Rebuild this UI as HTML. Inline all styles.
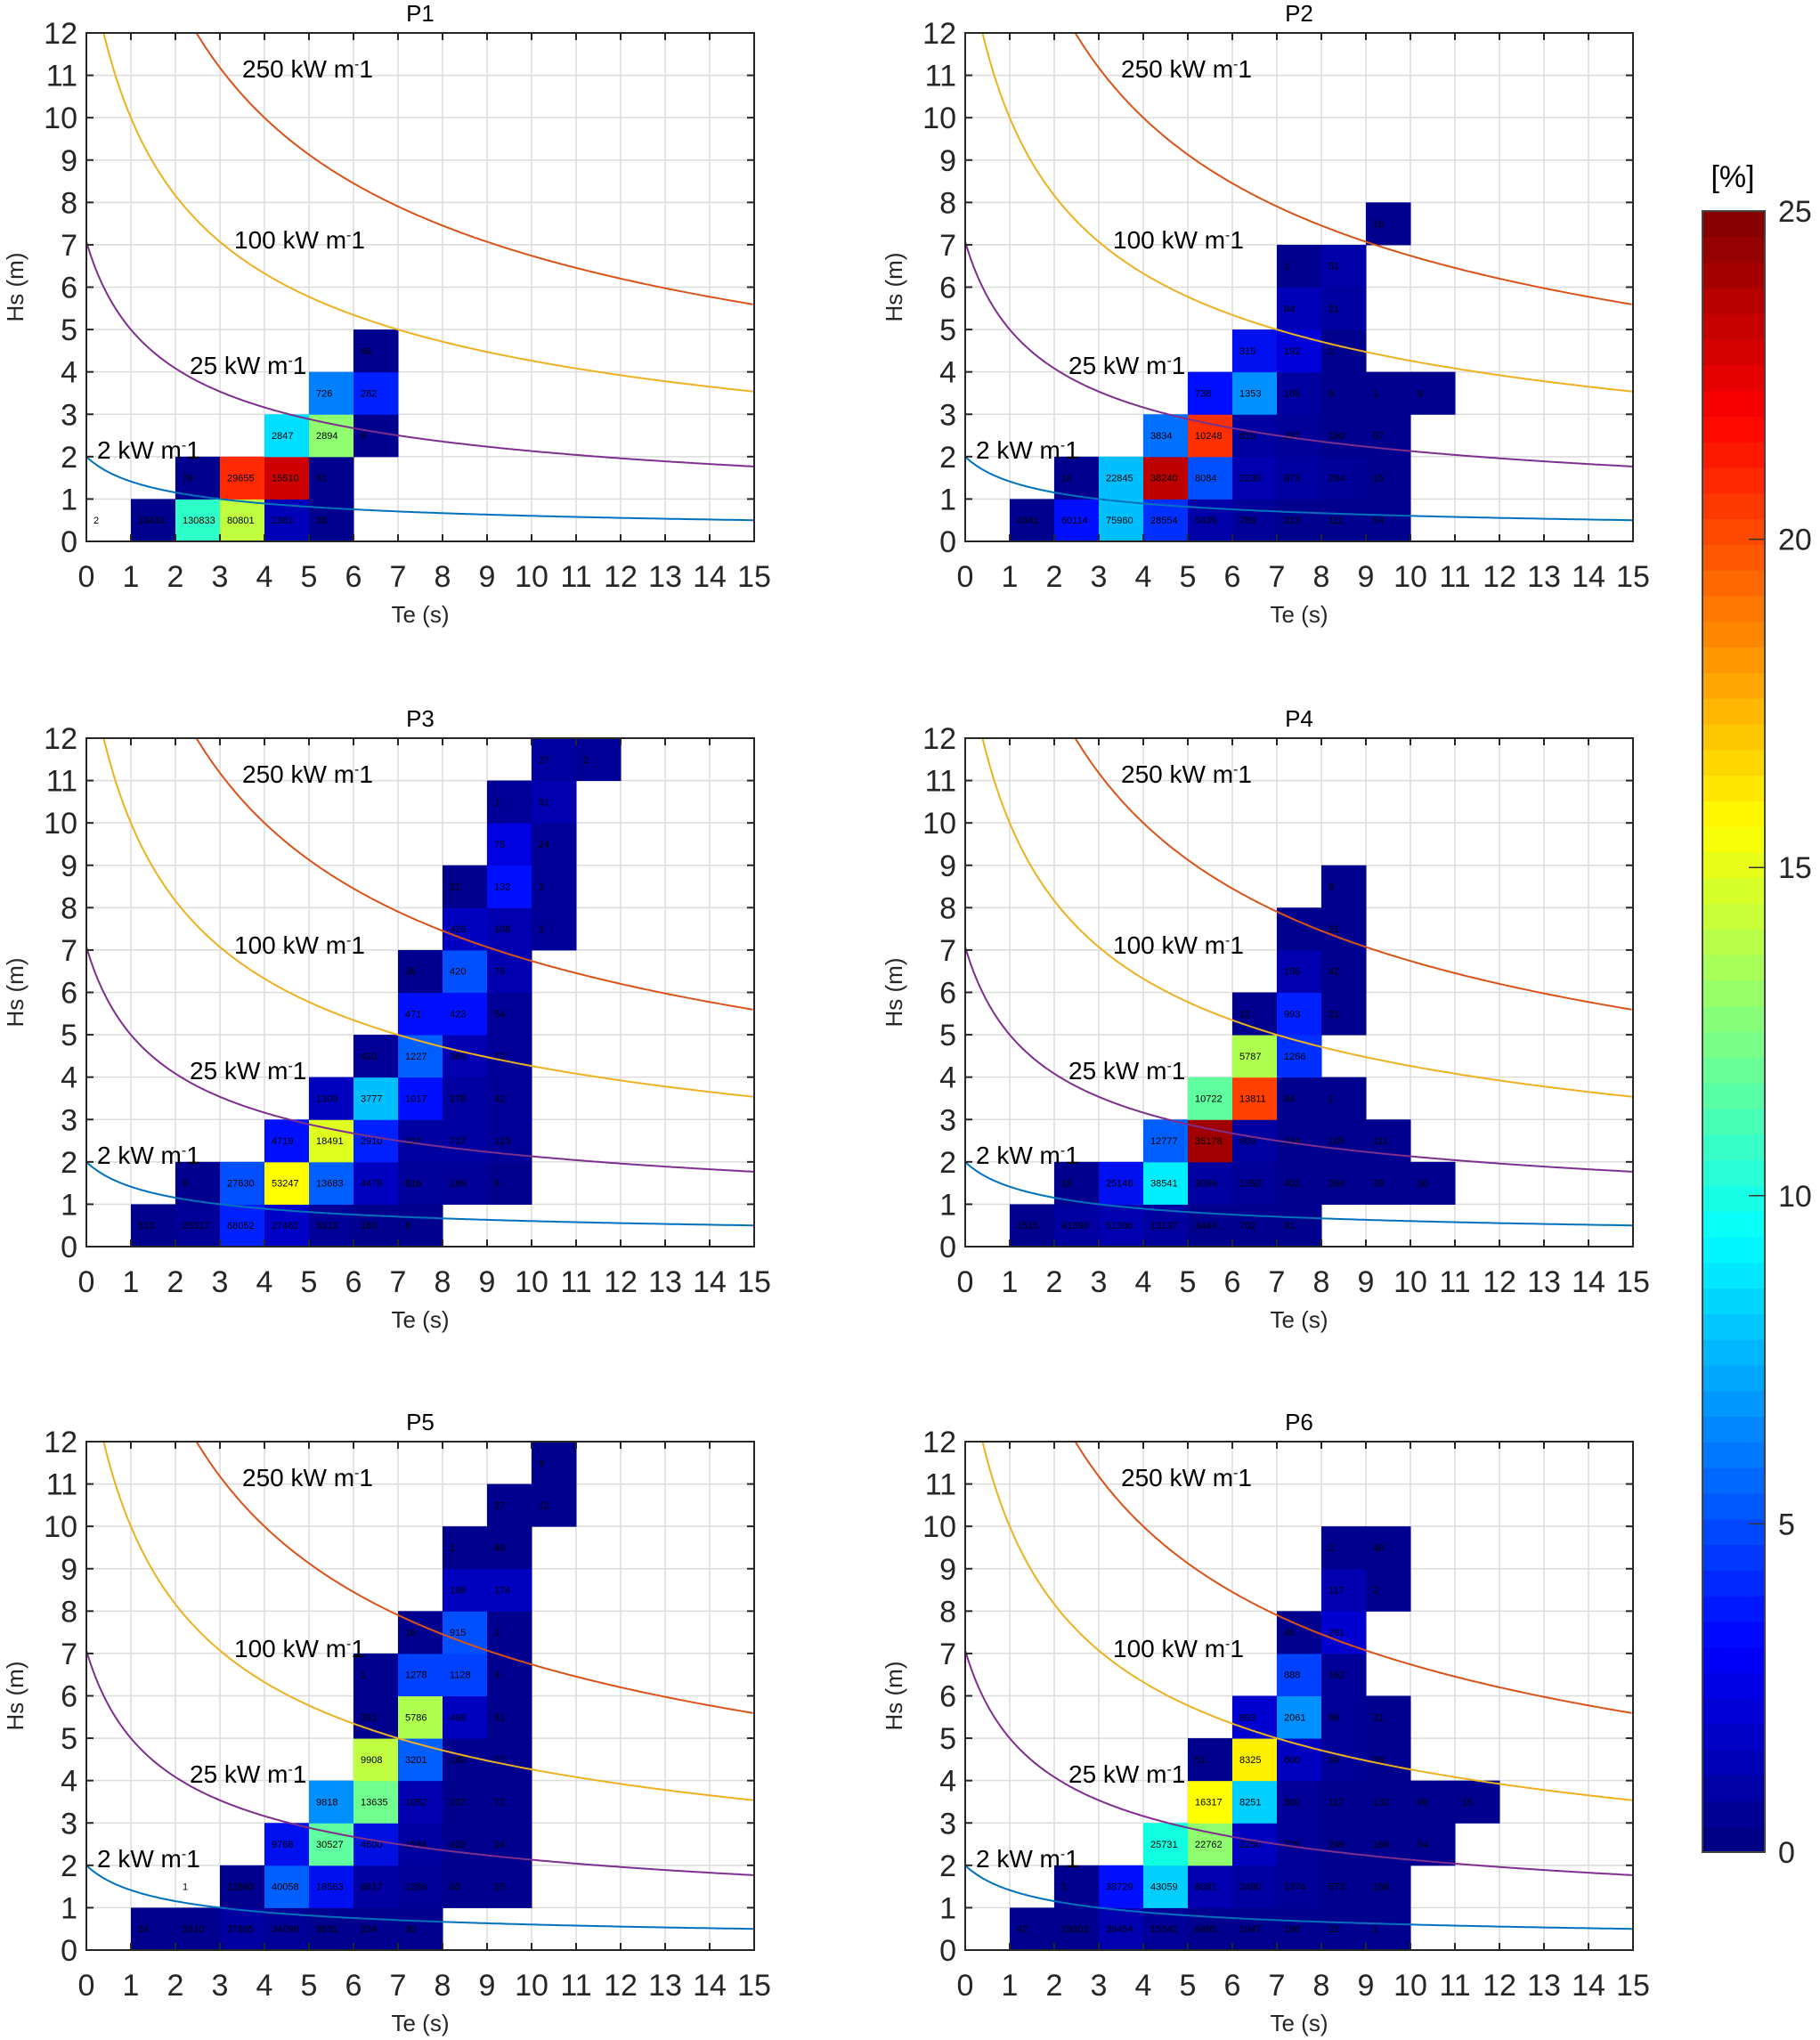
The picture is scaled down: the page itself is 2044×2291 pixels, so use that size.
<!DOCTYPE html>
<html><head><meta charset="utf-8">
<style>
html,body{margin:0;padding:0;background:#fff;}
svg{display:block;font-family:"Liberation Sans",Arial,sans-serif;}
</style></head>
<body>
<svg id="s" xmlns="http://www.w3.org/2000/svg" width="2044" height="2291" viewBox="0 0 2044 2291"></svg>
<script>
const N='#00008F';
const panels=[
 {name:'P1',L:97,T:37,cells:[
  [0,0,'#ffffff','2'],[1,0,N,'18431'],[2,0,'#2DFFC8','130833'],[3,0,'#BFFF3F','80801'],[4,0,'#0000B8','2361'],[5,0,N,'38'],
  [2,1,N,'78'],[3,1,'#FF2A00','29655'],[4,1,'#CF0000','15510'],[5,1,N,'81'],
  [4,2,'#00DFFF','2847'],[5,2,'#8FFF6F','2894'],[6,2,N,'9'],
  [5,3,'#0080FF','726'],[6,3,'#0020FF','282'],
  [6,4,N,'66']]},
 {name:'P2',L:1084,T:37,cells:[
  [1,0,N,'4341'],[2,0,'#0010FF','60114'],[3,0,'#00BFFF','75960'],[4,0,'#0030FF','28554'],[5,0,'#0000A8','5439'],[6,0,'#000098','789'],[7,0,N,'213'],[8,0,N,'111'],[9,0,N,'54'],
  [2,1,N,'16'],[3,1,'#00BFFF','22845'],[4,1,'#BF0000','38240'],[5,1,'#0050FF','8084'],[6,1,'#0000B0','2235'],[7,1,'#0000A0','873'],[8,1,'#000098','294'],[9,1,N,'15'],
  [4,2,'#0070FF','3834'],[5,2,'#FF3000','10248'],[6,2,'#0000A0','815'],[7,2,'#000098','287'],[8,2,N,'160'],[9,2,N,'57'],
  [5,3,'#0010FF','738'],[6,3,'#0090FF','1353'],[7,3,'#0000A0','165'],[8,3,N,'9'],[9,3,N,'1'],[10,3,N,'9'],
  [6,4,'#0010F0','315'],[7,4,'#0000D8','192'],[8,4,N,'2'],
  [7,5,'#0000B8','84'],[8,5,'#0000A0','21'],
  [7,6,N,'1'],[8,6,'#0000A8','51'],
  [9,7,N,'16']]},
 {name:'P3',L:97,T:829,cells:[
  [1,0,N,'513'],[2,0,'#000098','25317'],[3,0,'#0020FF','68052'],[4,0,'#0000C8','27462'],[5,0,'#000098','5313'],[6,0,N,'183'],[7,0,N,'8'],
  [2,1,N,'9'],[3,1,'#0050FF','27630'],[4,1,'#FFFF00','53247'],[5,1,'#0060FF','13683'],[6,1,'#0000C0','4479'],[7,1,'#00009A','816'],[8,1,'#000098','189'],[9,1,N,'9'],
  [4,2,'#0010FF','4719'],[5,2,'#DFFF1F','18491'],[6,2,'#0020FF','2910'],[7,2,'#0000A0','212'],[8,2,'#0000A0','717'],[9,2,'#000098','123'],
  [5,3,'#0000C0','1309'],[6,3,'#00BFFF','3777'],[7,3,'#0010FF','1017'],[8,3,'#0000A0','278'],[9,3,'#000098','42'],
  [6,4,'#000098','420'],[7,4,'#0060FF','1227'],[8,4,'#0000B0','366'],[9,4,'#000098','12'],
  [7,5,'#0010FF','471'],[8,5,'#0010FF','423'],[9,5,'#000098','54'],
  [7,6,N,'36'],[8,6,'#0050FF','420'],[9,6,'#0000B0','75'],
  [8,7,'#0000C0','426'],[9,7,'#0000B0','108'],[10,7,'#000098','1'],
  [8,8,N,'21'],[9,8,'#0010FF','132'],[10,8,'#000098','2'],
  [9,9,'#0000E0','75'],[10,9,'#000098','24'],
  [9,10,'#000098','1'],[10,10,'#0000B0','51'],
  [10,11,'#0000A0','27'],[11,11,'#000098','2']]},
 {name:'P4',L:1084,T:829,cells:[
  [1,0,N,'1515'],[2,0,'#0000A0','41898'],[3,0,'#0000B0','51306'],[4,0,'#0000A0','13137'],[5,0,N,'3444'],[6,0,N,'702'],[7,0,N,'81'],
  [2,1,N,'18'],[3,1,'#0010F0','25146'],[4,1,'#00EFFF','38541'],[5,1,'#0000A0','3099'],[6,1,'#000098','1353'],[7,1,N,'402'],[8,1,N,'268'],[9,1,N,'39'],[10,1,N,'30'],
  [4,2,'#0060FF','12777'],[5,2,'#A00000','35178'],[6,2,'#0000A0','909'],[7,2,N,'234'],[8,2,N,'105'],[9,2,N,'111'],
  [5,3,'#60FF9F','10722'],[6,3,'#FF4000','13811'],[7,3,N,'84'],[8,3,N,'1'],
  [6,4,'#AFFF4F','5787'],[7,4,'#0030FF','1266'],
  [6,5,N,'12'],[7,5,'#0020FF','993'],[8,5,N,'21'],
  [7,6,'#0000B0','156'],[8,6,N,'42'],
  [7,7,N,''],[8,7,N,'21'],
  [8,8,N,'9']]},
 {name:'P5',L:97,T:1619,cells:[
  [1,0,N,'24'],[2,0,N,'5610'],[3,0,'#0000A0','37895'],[4,0,'#000098','34098'],[5,0,N,'9531'],[6,0,N,'234'],[7,0,N,'30'],
  [2,1,'#ffffff','1'],[3,1,N,'12863'],[4,1,'#0060FF','40058'],[5,1,'#0010F0','18563'],[6,1,'#0000A0','6617'],[7,1,'#000098','1286'],[8,1,N,'63'],[9,1,N,'15'],
  [4,2,'#0010F0','9768'],[5,2,'#60FF9F','30527'],[6,2,'#0010E0','4600'],[7,2,'#0000A0','1584'],[8,2,N,'420'],[9,2,N,'24'],
  [5,3,'#0090FF','9818'],[6,3,'#70FF8F','13635'],[7,3,'#0000B0','1052'],[8,3,N,'237'],[9,3,N,'72'],
  [6,4,'#BFFF3F','9908'],[7,4,'#0060FF','3201'],[8,4,N,'180'],[9,4,N,'27'],
  [6,5,N,'291'],[7,5,'#AFFF4F','5786'],[8,5,'#0000C0','468'],[9,5,N,'51'],
  [6,6,N,'1'],[7,6,'#0040FF','1278'],[8,6,'#0040FF','1128'],[9,6,N,'9'],
  [7,7,N,'16'],[8,7,'#0050FF','915'],[9,7,N,'1'],
  [8,8,'#0000C0','198'],[9,8,'#0000C0','174'],
  [8,9,N,'1'],[9,9,N,'45'],
  [9,10,N,'27'],[10,10,N,'12'],
  [10,11,N,'9']]},
 {name:'P6',L:1084,T:1619,cells:[
  [1,0,N,'42'],[2,0,N,'18303'],[3,0,'#0000B0','38454'],[4,0,'#000098','15342'],[5,0,N,'8495'],[6,0,N,'1047'],[7,0,N,'198'],[8,0,N,'21'],[9,0,N,'1'],
  [2,1,N,'1'],[3,1,'#0010FF','38729'],[4,1,'#00CFFF','43059'],[5,1,'#0000B0','8081'],[6,1,'#0000A0','2490'],[7,1,'#000098','1374'],[8,1,N,'573'],[9,1,N,'158'],
  [4,2,'#10FFE0','25731'],[5,2,'#8FFF6F','22762'],[6,2,'#0000C0','2250'],[7,2,'#000098','725'],[8,2,N,'249'],[9,2,N,'168'],[10,2,N,'54'],
  [5,3,'#FFFF00','16317'],[6,3,'#00CFFF','8251'],[7,3,'#000098','300'],[8,3,N,'117'],[9,3,N,'132'],[10,3,N,'96'],[11,3,N,'15'],
  [5,4,N,'51'],[6,4,'#FFF000','8325'],[7,4,'#0000C0','600'],[8,4,'#000098','39'],[9,4,N,'39'],
  [6,5,'#0000D0','893'],[7,5,'#0090FF','2061'],[8,5,'#000098','99'],[9,5,N,'21'],
  [7,6,'#0040FF','888'],[8,6,'#000098','162'],
  [7,7,N,'45'],[8,7,'#0000D0','291'],
  [8,8,'#0000B0','117'],[9,8,N,'2'],
  [8,9,N,'2'],[9,9,N,'48']]}
];
const svg=document.getElementById('s');
const NS='http://www.w3.org/2000/svg';
function el(t,a,txt){const e=document.createElementNS(NS,t);for(const k in a)e.setAttribute(k,a[k]);if(txt!==undefined)e.textContent=txt;svg.appendChild(e);return e;}
const W=750,H=571,ux=W/15,uy=H/12;
const curves=[[2,'#0072BD'],[25,'#7E2F8E'],[100,'#EDB120'],[250,'#D95319']];
const ann=[['250',175,40],['100',166,232],['25',116,373],['2',12,468]];
panels.forEach(p=>{
 const L=p.L,T=p.T,B=T+H,R=L+W;
 for(let i=1;i<15;i++)el('line',{x1:L+i*ux,y1:T,x2:L+i*ux,y2:B,stroke:'#dcdcdc','stroke-width':1.5});
 for(let j=1;j<12;j++)el('line',{x1:L,y1:B-j*uy,x2:R,y2:B-j*uy,stroke:'#dcdcdc','stroke-width':1.5});
 p.cells.forEach(c=>{
  const x=L+c[0]*ux,y=B-(c[1]+1)*uy;
  if(c[2]!=='#ffffff')el('rect',{x:x,y:y,width:ux+0.5,height:uy+0.5,fill:c[2]});
  if(c[3])el('text',{x:x+8,y:y+uy/2+4,'font-size':11,fill:'#000'},c[3]);
 });
 curves.forEach(cv=>{
  let d='';const P=cv[0];
  let x0=Math.max(0,P/(0.5*144)-1);
  for(let x=x0;x<=15.0001;x+=0.05){
   const y=Math.sqrt(P/(0.5*(x+1)));
   d+=(d?'L':'M')+(L+x*ux).toFixed(1)+' '+(B-y*uy).toFixed(1);
  }
  el('path',{d:d,fill:'none',stroke:cv[1],'stroke-width':2});
 });
 ann.forEach(a=>{
  const t=el('text',{x:L+a[1],y:T+a[2]+10,'font-size':28,fill:'#000'});
  t.appendChild(document.createTextNode(a[0]+' kW m'));
  const s=document.createElementNS(NS,'tspan');s.setAttribute('dy','-10');s.setAttribute('font-size','16');s.textContent='-';t.appendChild(s);
  const s2=document.createElementNS(NS,'tspan');s2.setAttribute('dy','10');s2.textContent='1';t.appendChild(s2);
 });
 el('rect',{x:L,y:T,width:W,height:H,fill:'none',stroke:'#262626','stroke-width':2});
 for(let i=0;i<=15;i++){const x=L+i*ux;
  el('line',{x1:x,y1:B,x2:x,y2:B-8,stroke:'#262626','stroke-width':2});
  el('line',{x1:x,y1:T,x2:x,y2:T+8,stroke:'#262626','stroke-width':2});
  el('text',{x:x,y:B+51,'font-size':34,'text-anchor':'middle',fill:'#262626'},String(i));}
 for(let j=0;j<=12;j++){const y=B-j*uy;
  el('line',{x1:L,y1:y,x2:L+8,y2:y,stroke:'#262626','stroke-width':2});
  el('line',{x1:R,y1:y,x2:R-8,y2:y,stroke:'#262626','stroke-width':2});
  el('text',{x:L-10,y:y+12,'font-size':34,'text-anchor':'end',fill:'#262626'},String(j));}
 el('text',{x:L+W/2,y:B+91,'font-size':26,'text-anchor':'middle',fill:'#262626'},'Te (s)');
 el('text',{x:L+W/2,y:T-13,'font-size':26,'text-anchor':'middle',fill:'#000'},p.name);
 el('text',{x:0,y:0,'font-size':26,'text-anchor':'middle',fill:'#262626',transform:`translate(${L-71},${T+H/2}) rotate(-90)`},'Hs (m)');
});
function jet(t){const r=Math.min(4*t-1.5,-4*t+4.5),g=Math.min(4*t-0.5,-4*t+3.5),b=Math.min(4*t+0.5,-4*t+2.5);
 const c=v=>Math.round(255*Math.max(0,Math.min(1,v)));return `rgb(${c(r)},${c(g)},${c(b)})`;}
const cx=1912,cw=70,ct=237,cb=2080,ch=cb-ct;
for(let i=0;i<64;i++){const t=(i+0.5)/64;el('rect',{x:cx,y:cb-(i+1)*ch/64,width:cw,height:ch/64+0.6,fill:jet(t)});}
el('rect',{x:cx,y:ct,width:cw,height:ch,fill:'none',stroke:'#444','stroke-width':2});
for(let k=0;k<=5;k++){const y=cb-k*ch/5;
 if(k>0&&k<5)el('line',{x1:cx+cw-18,y1:y,x2:cx+cw,y2:y,stroke:'#333','stroke-width':1.5});
 el('text',{x:cx+85,y:y+12,'font-size':34,fill:'#262626'},String(k*5));}
el('text',{x:cx+34,y:210,'font-size':34,'text-anchor':'middle',fill:'#000'},'[%]');
</script>
</body></html>
